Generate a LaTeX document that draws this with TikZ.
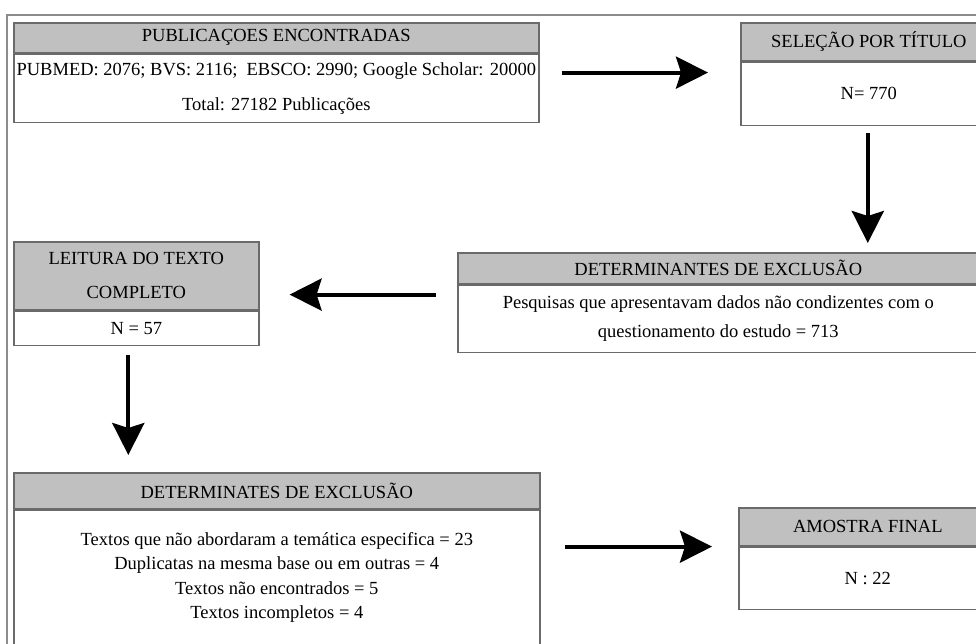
\documentclass[tikz,border=0pt]{standalone}
\usepackage{fontspec}
\setmainfont{Liberation Serif}
\usetikzlibrary{arrows.meta,positioning}
\definecolor{headgray}{HTML}{C0C0C0}
\definecolor{boxline}{HTML}{6A6A6A}
\definecolor{framegray}{HTML}{8C8C8C}

\begin{document}
\begin{tikzpicture}[x=1pt,y=-1pt,font=\fontsize{18.5}{22}\selectfont,
  headbox/.style={draw=boxline,fill=headgray,line width=1.6pt,inner sep=0pt,anchor=north west,align=center},
  bodybox/.style={draw=boxline,fill=white,line width=1.6pt,inner sep=0pt,anchor=north west,align=center},
  flowarrow/.style={line width=4pt,-{Stealth[length=32pt,width=32pt,inset=5pt]}}]
  \useasboundingbox (0,0) rectangle (976,644);
  \clip (0,0) rectangle (976,644);

  % Outer frame
  \draw[framegray,line width=2pt] (7,15) rectangle (1000,700);

  % Publications found
  \node[headbox,minimum width=525pt,minimum height=30pt] (pubhead) at (13,22) {PUBLICAÇOES ENCONTRADAS};
  \node[bodybox,minimum width=525pt,minimum height=68pt,font=\fontsize{18.5}{35}\selectfont] (pub) at (pubhead.south west)
    {PUBMED: 2076; BVS: 2116;\ \ EBSCO: 2990; Google Scholar: 20000\\Total: 27182 Publicações};

  % Selection by title
  \node[headbox,minimum width=256pt,minimum height=38pt] (selhead) at (740,22) {SELEÇÃO POR TÍTULO};
  \node[bodybox,minimum width=256pt,minimum height=63pt] (sel) at (selhead.south west) {N= 770};

  % First exclusion
  \node[headbox,minimum width=521pt,minimum height=31pt] (excl1head) at (457,252) {DETERMINANTES DE EXCLUSÃO};
  \node[bodybox,minimum width=521pt,minimum height=67pt,font=\fontsize{18.5}{29}\selectfont] (excl1) at (excl1head.south west)
    {Pesquisas que apresentavam dados não condizentes com o\\questionamento do estudo = 713};

  % Full-text reading
  \node[headbox,minimum width=245pt,minimum height=68pt,font=\fontsize{18.5}{34}\selectfont] (readhead) at (13,241) {LEITURA DO TEXTO\\COMPLETO};
  \node[bodybox,minimum width=245pt,minimum height=34pt] (read) at (readhead.south west) {N = 57};

  % Second exclusion
  \node[headbox,minimum width=526pt,minimum height=36pt] (excl2head) at (13,472) {DETERMINATES DE EXCLUSÃO};
  \node[bodybox,minimum width=526pt,minimum height=134pt,font=\fontsize{18.5}{24.5}\selectfont] (excl2) at (excl2head.south west)
    {Textos que não abordaram a temática especifica = 23\\Duplicatas na mesma base ou em outras = 4\\Textos não encontrados = 5\\Textos incompletos = 4};

  % Final sample
  \node[headbox,minimum width=258pt,minimum height=38pt] (finalhead) at (738,507) {AMOSTRA FINAL};
  \node[bodybox,minimum width=258pt,minimum height=62pt] (final) at (finalhead.south west) {N : 22};

  % Flow
  \draw[flowarrow] ([shift={(22,19)}]pubhead.south east) -- ([shift={(-32,11)}]selhead.south west);
  \draw[flowarrow] ([shift={(-1,7)}]sel.south) -- ([shift={(-1,-9)}]sel.south |- excl1head.north);
  \draw[flowarrow] ([shift={(-21,10)}]excl1head.south west) -- ([shift={(30,-16)}]readhead.south east);
  \draw[flowarrow] ([shift={(-8,9)}]read.south) -- ([shift={(-8,-17)}]read.south |- excl2head.north);
  \draw[flowarrow] ([shift={(24,37)}]excl2head.south east) -- ([shift={(-26,0)}]finalhead.south west);
\end{tikzpicture}
\end{document}
